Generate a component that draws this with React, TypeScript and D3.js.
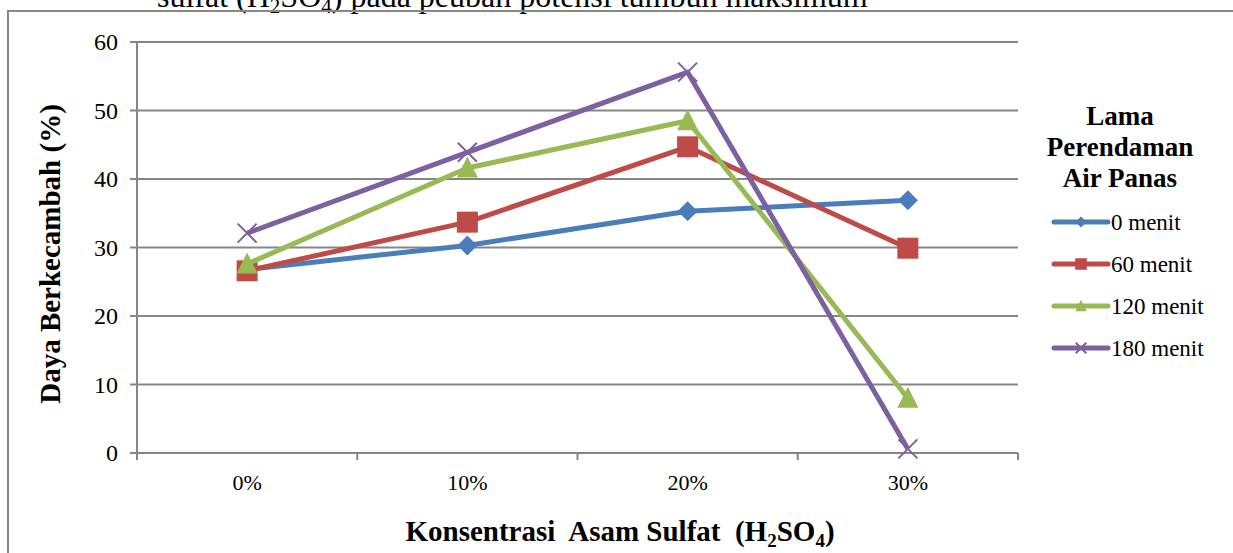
import React from "react";
import * as d3 from "d3";

const categories = ["0%", "10%", "20%", "30%"];
const yTicks = [0, 10, 20, 30, 40, 50, 60];
const seriesNames = ["0 menit", "60 menit", "120 menit", "180 menit"];
const s0 = [26.8, 30.3, 35.3, 36.9];
const s60 = [26.6, 33.7, 44.7, 29.9];
const s120 = [27.6, 41.6, 48.5, 8.0];
const s180 = [32.1, 43.9, 55.6, 0.6];
const colors = ["#4A7EBB", "#BE4B48", "#98B954", "#7D60A0"];
const markers = ["diamond", "square", "triangle", "x"];

const W = 1233, H = 553;
const left = 137, right = 1018, top = 42, bottom = 453;
const font = "'Liberation Serif', 'Times New Roman', serif";

function Marker({ type, x, y, color, scale = 1 }: any) {
  if (type === "diamond") {
    const r = 10 * scale;
    return <path d={`M${x},${y - r}L${x + r},${y}L${x},${y + r}L${x - r},${y}Z`} fill={color} />;
  }
  if (type === "square") {
    const r = 10.5 * scale;
    return <rect x={x - r} y={y - r} width={2 * r} height={2 * r} fill={color} />;
  }
  if (type === "triangle") {
    const r = 10.5 * scale;
    return <path d={`M${x},${y - r * 1.1}L${x + r},${y + r * 0.9}L${x - r},${y + r * 0.9}Z`} fill={color} />;
  }
  const r = 9.5 * scale;
  return (
    <path d={`M${x - r},${y - r}L${x + r},${y + r}M${x - r},${y + r}L${x + r},${y - r}`} stroke={color} strokeWidth={2} fill="none" />
  );
}

export default function App() {
  const series = [s0, s60, s120, s180];
  const x = d3.scaleBand().domain(categories).range([left, right]).padding(0);
  const y = d3.scaleLinear().domain([0, 60]).range([bottom, top]);
  const cx = (c: string) => (x(c) as number) + x.bandwidth() / 2;
  const line = d3.line<number>().x((_, i) => cx(categories[i])).y((v) => y(v));
  const tickXs = [...categories.map((c) => x(c) as number), right];
  const legendY = [222, 264, 306, 348];

  return (
    <svg width={W} height={H} style={{ position: "absolute", left: 0, top: 0, background: "#fff" }} fontFamily={font}>
      <text x={157} y={7} fontSize={32} fill="#000">sulfat (H<tspan fontSize={21} dy={6}>2</tspan><tspan dy={-6}>SO</tspan><tspan fontSize={21} dy={6}>4</tspan><tspan dy={-6}>) pada peubah potensi tumbuh maksimum</tspan></text>
      <path d={`M8,${H + 5}V11H${W + 5}`} fill="none" stroke="#888" strokeWidth={2} />
      {yTicks.map((t) => (
        <g key={t}>
          <line x1={left - 7} x2={right} y1={y(t)} y2={y(t)} stroke="#868686" strokeWidth={2} />
          <text x={118} y={y(t) + 8} textAnchor="end" fontSize={24}>{t}</text>
        </g>
      ))}
      <line x1={left} x2={left} y1={top} y2={bottom} stroke="#868686" strokeWidth={2} />
      {tickXs.map((tx, i) => (
        <line key={i} x1={tx} x2={tx} y1={bottom} y2={bottom + 7} stroke="#868686" strokeWidth={2} />
      ))}
      {categories.map((c) => (
        <text key={c} x={cx(c)} y={490} textAnchor="middle" fontSize={22}>{c}</text>
      ))}
      <text transform={`translate(60,254) rotate(-90)`} textAnchor="middle" fontSize={29} fontWeight="bold">Daya Berkecambah (%)</text>
      <text x={620} y={541} textAnchor="middle" fontSize={29} fontWeight="bold" xmlSpace="preserve">Konsentrasi  Asam Sulfat  (H<tspan fontSize={19} dy={6}>2</tspan><tspan dy={-6}>SO</tspan><tspan fontSize={19} dy={6}>4</tspan><tspan dy={-6}>)</tspan></text>
      {series.map((s, si) => (
        <g key={si}>
          <path d={line(s) as string} fill="none" stroke={colors[si]} strokeWidth={5} strokeLinejoin="round" />
          {s.map((v, i) => (
            <Marker key={i} type={markers[si]} x={cx(categories[i])} y={y(v)} color={colors[si]} />
          ))}
        </g>
      ))}
      <g fontSize={27} fontWeight="bold" textAnchor="middle">
        <text x={1120} y={125}>Lama</text>
        <text x={1120} y={156}>Perendaman</text>
        <text x={1120} y={187}>Air Panas</text>
      </g>
      {seriesNames.map((n, i) => (
        <g key={n}>
          <line x1={1054} x2={1108} y1={legendY[i]} y2={legendY[i]} stroke={colors[i]} strokeWidth={5} strokeLinecap="round" />
          <Marker type={markers[i]} x={1081} y={legendY[i]} color={colors[i]} scale={0.55} />
          <text x={1111} y={legendY[i] + 8} fontSize={23}>{n}</text>
        </g>
      ))}
    </svg>
  );
}
